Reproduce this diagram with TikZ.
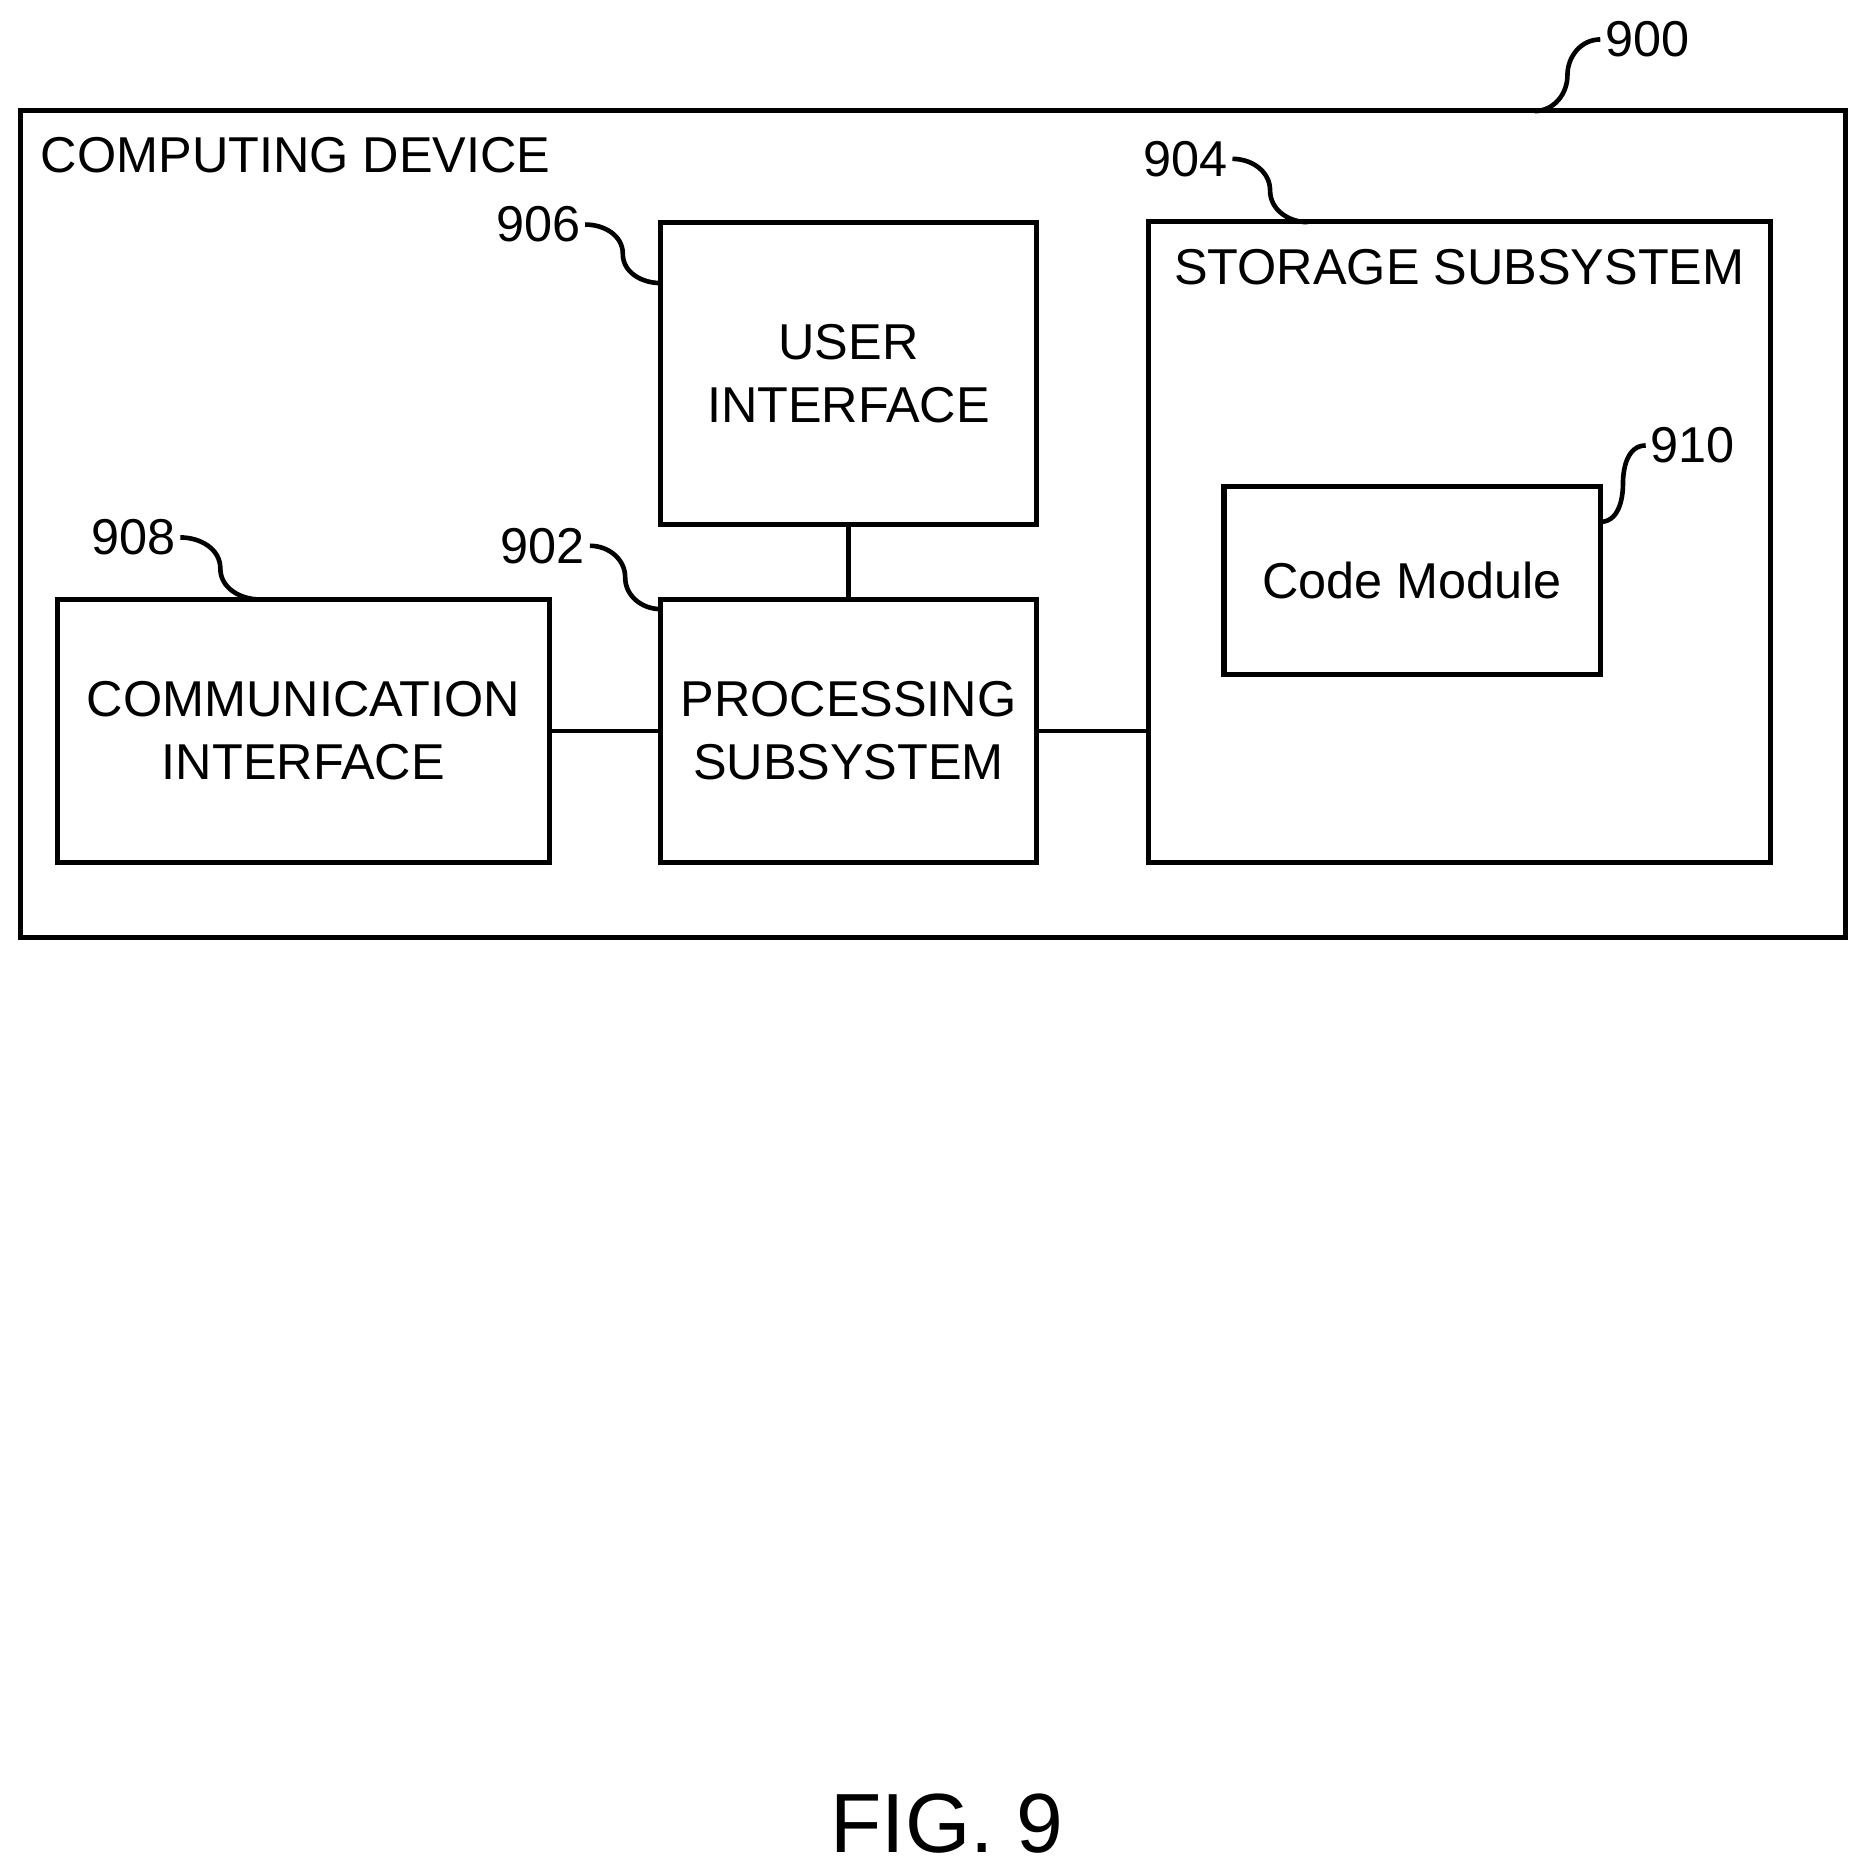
\documentclass[tikz,border=0pt]{standalone}
\usepackage{fontspec}
\setmainfont{Liberation Sans}
\usetikzlibrary{calc}
\begin{document}
\begin{tikzpicture}[x=0.01cm,y=-0.01cm,
  box/.style={draw,line width=1.2pt,inner sep=0pt,align=center,font=\fontsize{12}{15}\selectfont},
  lbl/.style={inner sep=1pt,font=\fontsize{12}{14}\selectfont},
  sq/.style={line width=1.1pt}]
\useasboundingbox (0,0) rectangle (1560,1565);
\node[box,minimum width=15.27cm,minimum height=6.92cm] (dev) at (781.5,439) {};
\node[lbl,anchor=west] (devt) at (30,130) {COMPUTING DEVICE};
\node[box,minimum width=3.15cm,minimum height=2.53cm] (ui) at (710.5,312.5) {USER\\INTERFACE};
\node[box,minimum width=3.15cm,minimum height=2.20cm] (proc) at (710.5,612) {PROCESSING\\SUBSYSTEM};
\node[box,minimum width=4.12cm,minimum height=2.20cm] (comm) at (254,612) {COMMUNICATION\\INTERFACE};
\node[box,minimum width=5.20cm,minimum height=5.36cm] (stor) at (1222,454) {};
\node[lbl] (stort) at (1222,224) {STORAGE SUBSYSTEM};
\node[box,minimum width=3.15cm,minimum height=1.58cm] (code) at (1182.5,486) {Code Module};
\node[font=\fontsize{20}{24}\selectfont] (fig) at (793,1527) {FIG. 9};
\draw[line width=1.1pt] (ui.south) -- (proc.north);
\draw[line width=1.1pt] (comm.east) -- (proc.west);
\draw[line width=1.1pt] (proc.east) -- (proc.east -| stor.west);
% reference labels
\node[lbl,anchor=west] (n900) at (1340,33) {900};
\node[lbl,anchor=east] (n906) at (490,188) {906};
\node[lbl,anchor=east] (n902) at (494,457) {902};
\node[lbl,anchor=east] (n908) at (151,450) {908};
\node[lbl,anchor=east] (n904) at (1032,133) {904};
\node[lbl,anchor=west] (n910) at (1378,373) {910};
\coordinate (e900) at (1285,93);
\coordinate (e906) at (553,237);
\coordinate (e902) at (553,510);
\coordinate (e908) at (218,502);
\coordinate (e904) at (1095,186);
\coordinate (e910) at (1340,437);
\draw[sq] (n900.west) to[out=180,in=90] ($(n900.west)!0.5!(e900)$) to[out=-90,in=0] (e900);
\draw[sq] (n906.east) to[out=0,in=90] ($(n906.east)!0.5!(e906)$) to[out=-90,in=180] (e906);
\draw[sq] (n902.east) to[out=0,in=90] ($(n902.east)!0.5!(e902)$) to[out=-90,in=180] (e902);
\draw[sq] (n908.east) to[out=0,in=90] ($(n908.east)!0.5!(e908)$) to[out=-90,in=180] (e908);
\draw[sq] (n904.east) to[out=0,in=90] ($(n904.east)!0.5!(e904)$) to[out=-90,in=180] (e904);
\draw[sq] (n910.west) to[out=180,in=90] ($(n910.west)!0.5!(e910)$) to[out=-90,in=0] (e910);
\end{tikzpicture}
\end{document}
